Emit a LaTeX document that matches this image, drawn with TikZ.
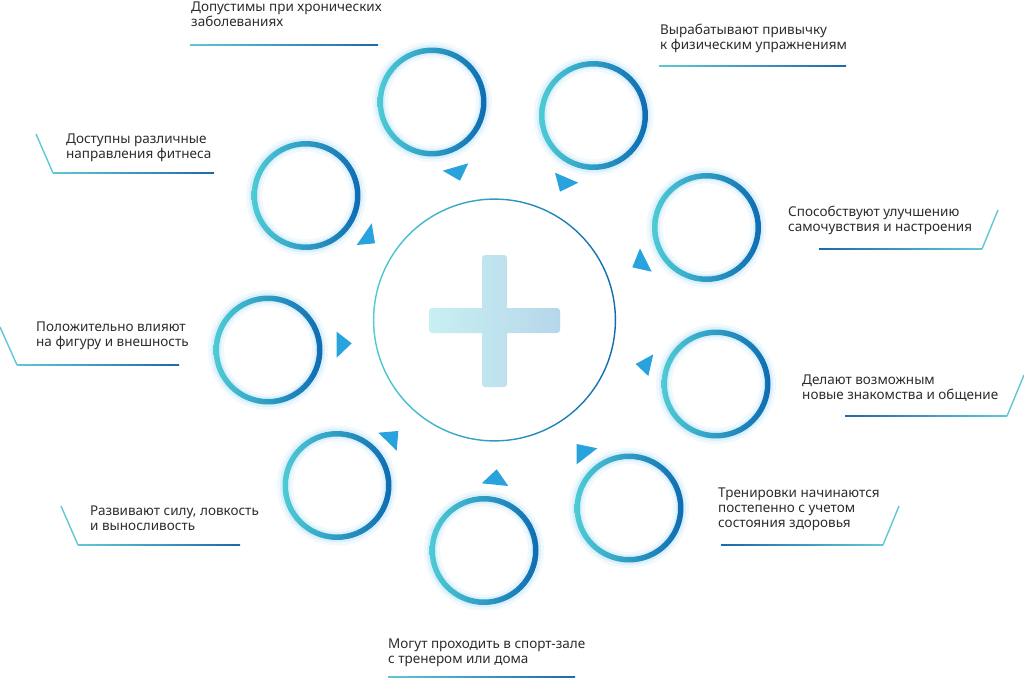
\documentclass[tikz,border=0pt]{standalone}
\usepackage{fontspec}
\setmainfont{Noto Sans}
\definecolor{cyanL}{RGB}{78,203,212}
\definecolor{blueD}{RGB}{14,108,178}
\definecolor{lineL}{RGB}{95,200,214}
\definecolor{lineD}{RGB}{30,105,170}
\definecolor{triC}{RGB}{41,163,222}
\definecolor{txt}{RGB}{45,45,45}
\definecolor{glowC}{RGB}{190,228,250}
\definecolor{plusL}{RGB}{200,240,242}
\definecolor{plusR}{RGB}{182,214,234}
\tikzset{
  lbl/.style={anchor=base west, align=left, font=\fontsize{13.5}{15}\selectfont, text=txt, inner sep=0pt},
  tri/.style={fill=triC},
  ring/.style={left color=cyanL, right color=blueD, even odd rule},
  glowA/.style={draw=glowC, line width=16pt, opacity=0.22},
  glowB/.style={draw=glowC, line width=10pt, opacity=0.4},
  slantline/.style={draw=lineL, line width=1.4pt},
  ulineLR/.style={left color=lineL, right color=lineD},
  ulineRL/.style={left color=lineD, right color=lineL}
}
\begin{document}
\begin{tikzpicture}[x=1pt,y=-1pt]
\useasboundingbox[fill=white] (0,0) rectangle (1024,682);
% centres
\coordinate (M) at (494.5,320);
\coordinate (cA) at (432,102);
\coordinate (cB) at (593.5,115.5);
\coordinate (cC) at (706.5,227.5);
\coordinate (cD) at (716,384);
\coordinate (cE) at (629,508);
\coordinate (cF) at (484,550.5);
\coordinate (cG) at (337,485.5);
\coordinate (cH) at (268,350);
\coordinate (cI) at (306,195.5);
% glow
\foreach \c in {cA,cB,cC,cD,cE,cF,cG,cH,cI}{
  \draw[glowA] (\c) circle (52pt);
  \draw[glowB] (\c) circle (52pt);
}
% rings
\foreach \c in {cA,cB,cC,cD,cE,cF,cG,cH,cI}{
  \shade[ring] (\c) circle (54.5pt) (\c) circle (49pt);
}
% central circle
\shade[ring] (M) circle (121.6pt) (M) circle (120.2pt);
% plus
\shade[left color=plusL, right color=plusR, rounded corners=3pt]
  (429,308) rectangle (560,333) (482,255) rectangle (507,387);
% triangles
\fill[tri] (442.7,170.7) -- (468.3,163.3) -- (460,180.7) -- cycle;
\fill[tri] (555,172.7) -- (578.3,182.7) -- (560,191.7) -- cycle;
\fill[tri] (640,248.3) -- (651.7,271.7) -- (632.3,267.3) -- cycle;
\fill[tri] (653.3,354.3) -- (648.3,376) -- (635.7,364) -- cycle;
\fill[tri] (576.7,444) -- (597.3,448.3) -- (576.7,464.3) -- cycle;
\fill[tri] (496.7,469.3) -- (508.3,486) -- (481.7,483.3) -- cycle;
\fill[tri] (378.3,432.7) -- (398.3,431) -- (396.7,450.7) -- cycle;
\fill[tri] (336.7,331.7) -- (351.7,343.3) -- (336.7,357.7) -- cycle;
\fill[tri] (371.7,223.3) -- (375,243.3) -- (356.7,245) -- cycle;
% labels (anchor = baseline of last line)
\node[lbl] (tA) at (191,27) {Допустимы при хронических\\заболеваниях};
\node[lbl] (tB) at (660,50) {Вырабатывают привычку\\к физическим упражнениям};
\node[lbl] (tC) at (788,231) {Способствуют улучшению\\самочувствия и настроения};
\node[lbl] (tD) at (802,399) {Делают возможным\\новые знакомства и общение};
\node[lbl] (tE) at (718,527) {Тренировки начинаются\\постепенно с учетом\\состояния здоровья};
\node[lbl] (tF) at (388,663) {Могут проходить в спорт-зале\\с тренером или дома};
\node[lbl] (tG) at (90,530) {Развивают силу, ловкость\\и выносливость};
\node[lbl] (tH) at (36,346) {Положительно влияют\\на фигуру и внешность};
\node[lbl] (tI) at (66,158) {Доступны различные\\направления фитнеса};
% underlines
\shade[ulineLR] (190,44.3) rectangle (378,45.7);
\shade[ulineLR] (659,65.3) rectangle (846,66.7);
\draw[slantline] (36,134) -- (53,173);
\shade[ulineLR] (53,172.3) rectangle (214,173.7);
\draw[slantline] (0,327) -- (17,365);
\shade[ulineLR] (17,364.3) rectangle (179,365.7);
\shade[ulineRL] (819,248.3) rectangle (982,249.7);
\draw[slantline] (982,249) -- (998,210);
\shade[ulineRL] (845,415.3) rectangle (1007,416.7);
\draw[slantline] (1007,416) -- (1024,375);
\shade[ulineRL] (721,544.3) rectangle (883,545.7);
\draw[slantline] (883,545) -- (899,506);
\shade[ulineLR] (388,676.3) rectangle (575,677.7);
\draw[slantline] (61,506) -- (78,545);
\shade[ulineLR] (78,544.3) rectangle (240,545.7);
\end{tikzpicture}
\end{document}
